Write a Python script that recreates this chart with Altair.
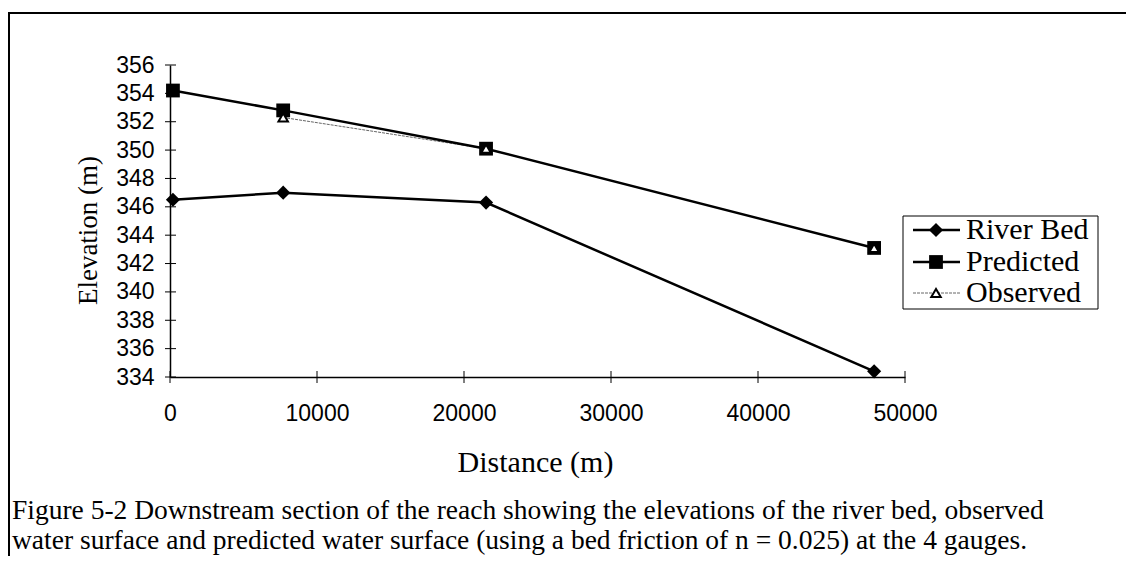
import altair as alt
import pandas as pd

# ---- data ----
distance = [200, 7700, 21500, 47900]
river_bed = [346.5, 347.0, 346.3, 334.4]
predicted = [354.2, 352.8, 350.1, 343.1]
obs_distance = [7700, 21500, 47900]
observed = [352.3, 350.1, 343.1]

series_names = ["River Bed", "Predicted", "Observed"]
y_ticks = [334, 336, 338, 340, 342, 344, 346, 348, 350, 352, 354, 356]
x_ticks = [0, 10000, 20000, 30000, 40000, 50000]

caption_1 = "Figure 5-2 Downstream section of the reach showing the elevations of the river bed, observed"
caption_2 = "water surface and predicted water surface (using a bed friction of n = 0.025) at the 4 gauges."

bed_df = pd.DataFrame({"distance": distance, "elev": river_bed})
pred_df = pd.DataFrame({"distance": distance, "elev": predicted})
obs_df = pd.DataFrame({"distance": obs_distance, "elev": observed})
yt_df = pd.DataFrame({"distance": [0] * len(y_ticks), "elev": y_ticks})
xt_df = pd.DataFrame({"distance": x_ticks, "elev": [334] * len(x_ticks)})

W, H = 735, 312
SANS = "Liberation Sans"
SERIF = "Liberation Serif"

xscale = alt.Scale(domain=[0, 50000], nice=False, zero=False)
yscale = alt.Scale(domain=[334, 356], nice=False, zero=False)

x_axis = alt.Axis(values=x_ticks, format="d", ticks=False, grid=False, domainColor="black",
                  domainWidth=1.5, labelFont=SANS, labelFontSize=23, labelColor="black",
                  labelPadding=25, labelFlush=False, labelOverlap=False, title="Distance (m)",
                  titleFont=SERIF, titleFontSize=30, titleFontWeight="normal", titleColor="black",
                  titleX=365, titleY=85, titleBaseline="middle", titleAlign="center")
y_axis = alt.Axis(values=y_ticks, ticks=False, grid=False, domainColor="black",
                  domainWidth=1.5, labelFont=SANS, labelFontSize=23, labelColor="black",
                  labelPadding=16, labelOverlap=False, labelFlush=False, title="Elevation (m)",
                  titleFont=SERIF, titleFontSize=27, titleFontWeight="normal", titleColor="black",
                  titleX=-82, titleY=165, titleBaseline="middle", titleAlign="center",
                  titleAngle=270)

X = alt.X("distance:Q", scale=xscale, axis=x_axis)
Y = alt.Y("elev:Q", scale=yscale, axis=y_axis)

bed_line = alt.Chart(bed_df).mark_line(color="black", strokeWidth=2.5).encode(x=X, y=Y)
bed_pts = alt.Chart(bed_df).mark_point(shape="diamond", filled=True, color="black", size=200, opacity=1).encode(x=X, y=Y)
pred_line = alt.Chart(pred_df).mark_line(color="black", strokeWidth=2.5).encode(x=X, y=Y)
pred_pts = alt.Chart(pred_df).mark_point(shape="square", filled=True, color="black", size=190, opacity=1).encode(x=X, y=Y)
obs_line = alt.Chart(obs_df).mark_line(color="#666666", strokeWidth=1, strokeDash=[3, 1]).encode(x=X, y=Y)
obs_pts = alt.Chart(obs_df).mark_point(shape="triangle-up", filled=False, fill="white", fillOpacity=1,
                                       stroke="black", strokeWidth=2, size=90, opacity=1).encode(x=X, y=Y)

# cross-style ticks on both axes
y_tick_marks = alt.Chart(yt_df).mark_rule(color="black", strokeWidth=1).encode(
    y=Y, x=alt.value(-5), x2=alt.value(6))
x_tick_marks = alt.Chart(xt_df).mark_rule(color="black", strokeWidth=1).encode(
    x=X, y=alt.value(H - 6), y2=alt.value(H + 6))

# legend (manual, to show line + marker)
LX0, LX1, LXM, LXT = 743, 790, 766, 796
rows_y = [165, 197, 228]
legend_box = alt.Chart(pd.DataFrame({"a": [0]})).mark_rect(fill="white", stroke="black", strokeWidth=1).encode(
    x=alt.value(733), x2=alt.value(928), y=alt.value(151), y2=alt.value(244))
legend_layers = [legend_box]
line_styles = [dict(color="black", strokeWidth=2.5), dict(color="black", strokeWidth=2.5),
               dict(color="#666666", strokeWidth=1, strokeDash=[3, 1])]
point_styles = [dict(shape="diamond", filled=True, color="black", size=200, opacity=1),
                dict(shape="square", filled=True, color="black", size=190, opacity=1),
                dict(shape="triangle-up", filled=False, fill="white", fillOpacity=1, stroke="black",
                     strokeWidth=2, size=90, opacity=1)]
for name, ry, ls, ps in zip(series_names, rows_y, line_styles, point_styles):
    d = pd.DataFrame({"label": [name]})
    legend_layers.append(alt.Chart(d).mark_rule(**ls).encode(
        x=alt.value(LX0), x2=alt.value(LX1), y=alt.value(ry)))
    legend_layers.append(alt.Chart(d).mark_point(**ps).encode(x=alt.value(LXM), y=alt.value(ry)))
    legend_layers.append(alt.Chart(d).mark_text(font=SERIF, fontSize=30, align="left", baseline="middle",
                                                color="black").encode(
        x=alt.value(LXT), y=alt.value(ry), text="label:N"))

# caption
cap1 = alt.Chart(pd.DataFrame({"t": [caption_1]})).mark_text(font=SERIF, fontSize=27.5, align="left",
                                                             baseline="middle", color="black").encode(
    x=alt.value(-158), y=alt.value(446), text="t:N")
cap2 = alt.Chart(pd.DataFrame({"t": [caption_2]})).mark_text(font=SERIF, fontSize=27.5, align="left",
                                                             baseline="middle", color="black").encode(
    x=alt.value(-158), y=alt.value(476), text="t:N")

# frame lines (top and left)
top_frame = alt.Chart(pd.DataFrame({"a": [0]})).mark_rule(color="black", strokeWidth=2).encode(
    x=alt.value(-162), x2=alt.value(956), y=alt.value(-52))
left_frame = alt.Chart(pd.DataFrame({"a": [0]})).mark_rule(color="black", strokeWidth=2).encode(
    x=alt.value(-161), y=alt.value(-52), y2=alt.value(491))

chart = alt.layer(
    bed_line, top_frame, left_frame, y_tick_marks, x_tick_marks,
    obs_line, pred_line, bed_pts, pred_pts, obs_pts,
    *legend_layers, cap1, cap2
).properties(
    width=W, height=H,
    background="white",
    padding={"left": 162, "top": 57, "right": 221, "bottom": 179},
    autosize=alt.AutoSizeParams(type="none"),
).configure_axis(
    grid=False, labelOverlap=False
).configure_view(strokeWidth=0, stroke=None)

chart.save("out.html", embed_options={"renderer": "svg", "actions": False})
